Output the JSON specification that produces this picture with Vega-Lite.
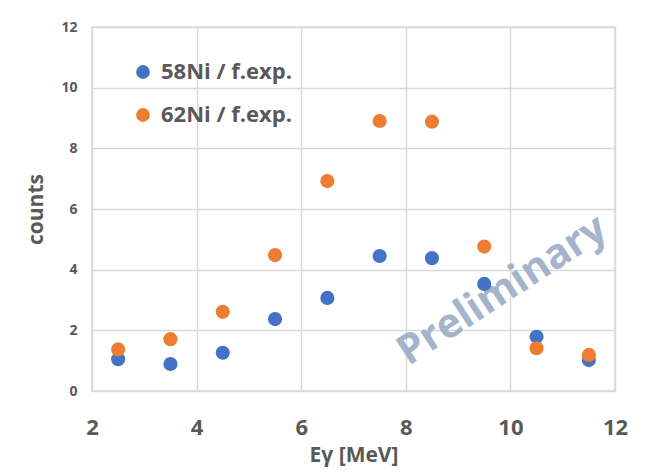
{
  "$schema": "https://vega.github.io/schema/vega-lite/v6.json",
  "width": 523,
  "height": 364,
  "autosize": "none",
  "padding": {"left": 92, "top": 27, "right": 31, "bottom": 81},
  "background": "white",
  "config": {
    "view": {"stroke": "#d9d9d9", "strokeWidth": 1.5},
    "font": "Open Sans"
  },
  "datasets": {
    "pts": [
      {"E": 2.5, "counts": 1.05, "series": "58Ni / f.exp."},
      {"E": 3.5, "counts": 0.89, "series": "58Ni / f.exp."},
      {"E": 4.5, "counts": 1.26, "series": "58Ni / f.exp."},
      {"E": 5.5, "counts": 2.37, "series": "58Ni / f.exp."},
      {"E": 6.5, "counts": 3.07, "series": "58Ni / f.exp."},
      {"E": 7.5, "counts": 4.45, "series": "58Ni / f.exp."},
      {"E": 8.5, "counts": 4.38, "series": "58Ni / f.exp."},
      {"E": 9.5, "counts": 3.53, "series": "58Ni / f.exp."},
      {"E": 10.5, "counts": 1.79, "series": "58Ni / f.exp."},
      {"E": 11.5, "counts": 1.02, "series": "58Ni / f.exp."},
      {"E": 2.5, "counts": 1.37, "series": "62Ni / f.exp."},
      {"E": 3.5, "counts": 1.71, "series": "62Ni / f.exp."},
      {"E": 4.5, "counts": 2.61, "series": "62Ni / f.exp."},
      {"E": 5.5, "counts": 4.48, "series": "62Ni / f.exp."},
      {"E": 6.5, "counts": 6.92, "series": "62Ni / f.exp."},
      {"E": 7.5, "counts": 8.9, "series": "62Ni / f.exp."},
      {"E": 8.5, "counts": 8.88, "series": "62Ni / f.exp."},
      {"E": 9.5, "counts": 4.76, "series": "62Ni / f.exp."},
      {"E": 10.5, "counts": 1.41, "series": "62Ni / f.exp."},
      {"E": 11.5, "counts": 1.19, "series": "62Ni / f.exp."}
    ],
    "wm": [
      {"E": 9.85, "counts": 3.3, "label": "Preliminary"}
    ]
  },
  "encoding": {
    "x": {
      "field": "E", "type": "quantitative",
      "scale": {"domain": [2, 12], "nice": false, "zero": false},
      "axis": {
        "title": "Eγ [MeV]", "values": [2, 4, 6, 8, 10, 12],
        "domain": false, "ticks": false,
        "gridColor": "#d9d9d9", "gridWidth": 1.5,
        "labelFontSize": 22, "labelFontWeight": "bold", "labelColor": "#595959",
        "labelPadding": 26, "labelFlush": false,
        "titleFontSize": 21, "titleFontWeight": "bold", "titleColor": "#595959",
        "titlePadding": 6
      }
    },
    "y": {
      "field": "counts", "type": "quantitative",
      "scale": {"domain": [0, 12], "nice": false},
      "axis": {
        "title": "counts", "values": [0, 2, 4, 6, 8, 10, 12],
        "domain": false, "ticks": false,
        "gridColor": "#d9d9d9", "gridWidth": 1.5,
        "labelFontSize": 14, "labelFontWeight": "bold", "labelColor": "#595959",
        "labelPadding": 15,
        "titleFontSize": 21, "titleFontWeight": "bold", "titleColor": "#595959",
        "titlePadding": 14
      }
    }
  },
  "layer": [
    {
      "data": {"name": "wm"},
      "mark": {"type": "text", "angle": -33, "fontSize": 41, "fontWeight": "bold", "color": "#9fb0c9", "opacity": 0.95, "font": "Open Sans"},
      "encoding": {
        "text": {"field": "label"}
      }
    },
    {
      "data": {"name": "pts"},
      "mark": {"type": "circle", "size": 200, "opacity": 1},
      "encoding": {
        "color": {
          "field": "series", "type": "nominal",
          "scale": {"domain": ["58Ni / f.exp.", "62Ni / f.exp."], "range": ["#4472C4", "#ED7D31"]},
          "legend": {
            "title": null, "orient": "none", "legendX": 40, "legendY": 34,
            "labelFontSize": 22, "labelFontWeight": "bold", "labelColor": "#595959",
            "symbolSize": 190, "symbolType": "circle", "symbolOpacity": 1,
            "rowPadding": 21, "labelOffset": 7
          }
        }
      }
    }
  ]
}
